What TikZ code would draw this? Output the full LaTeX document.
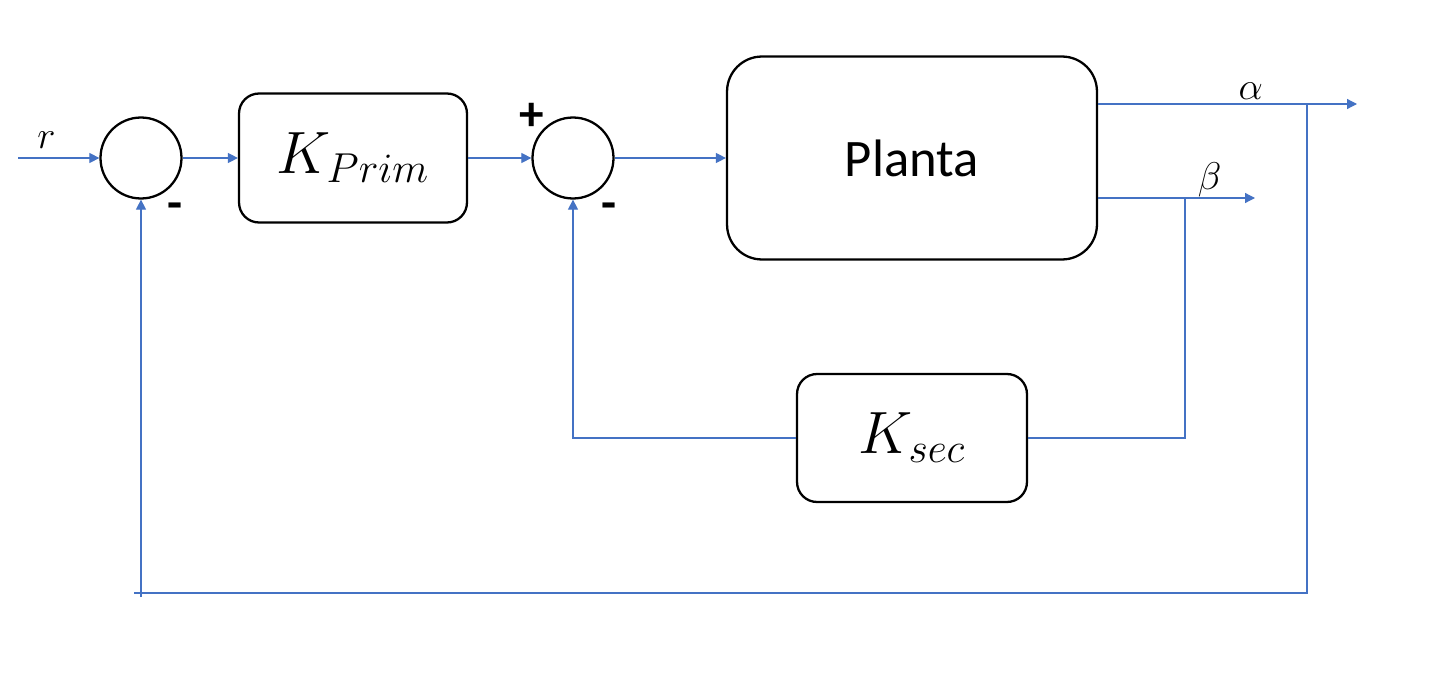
\RequirePackage{fix-cm}
\documentclass[tikz,border=0pt]{standalone}
\usepackage{fontspec}
\newfontfamily\calfont{Carlito}
\usepackage{tikz}
\usetikzlibrary{arrows.meta}
\usetikzlibrary{positioning}
\usetikzlibrary{calc}
\definecolor{linkblue}{HTML}{4472C4}
\tikzstyle{sumnode}=[circle,draw=black,line width=1.3pt,minimum size=1.62cm,inner sep=0pt]
\tikzstyle{block}=[rectangle,draw=black,line width=1.3pt,rounded corners=0.4cm,inner sep=0pt]
\tikzstyle{signal}=[-{Triangle[length=0.2cm,width=0.2cm]},draw=linkblue,line width=0.7pt]
\tikzstyle{wire}=[draw=linkblue,line width=0.7pt]
\tikzstyle{sign}=[font=\calfont\bfseries\fontsize{28}{30}\selectfont,inner sep=0pt,anchor=base]
\tikzstyle{lbl}=[font=\fontsize{22}{24}\selectfont,inner sep=2pt]
\tikzstyle{gain}=[font=\fontsize{34}{40}\selectfont]

\begin{document}
\begin{tikzpicture}[x=0.02cm,y=-0.02cm]

  \useasboundingbox[fill=white] (0,0) rectangle (1431,676);

  % summing junctions and blocks
  \node[sumnode] (sum1) at (141,158) {};
  \node[sumnode] (sum2) at (573,158) {};
  \node[block,gain,minimum width=4.56cm,minimum height=2.58cm] (kprim) at (353,158) {$K_{Prim}$};
  \node[block,minimum width=7.4cm,minimum height=4.06cm,rounded corners=0.7cm,font=\calfont\fontsize{30}{36}\selectfont] (planta) at (912,158) {Planta};
  \node[block,gain,minimum width=4.6cm,minimum height=2.56cm] (ksec) at (912,438) {$K_{sec}$};

  % signs
  \node[sign] (minus1) at (175,219) {-};
  \node[sign] (plus2) at (532,130) {+};
  \node[sign] (minus2) at (609,219) {-};

  % free ends and branch points
  \coordinate (rin) at (18,158);
  \coordinate (aout) at (1357,104);
  \coordinate (bout) at (1255,198);
  \coordinate (asplit) at (1307,104);
  \coordinate (bsplit) at (1185,198);
  \coordinate (fbcorner) at (134,593);
  \coordinate (fbtail) at (141,597);

  \draw[signal] (rin) -- node[lbl,above,pos=0.35,yshift=3pt] {$r$} (sum1);
  \foreach \source/\dest in {sum1/kprim, kprim/sum2, sum2/planta}
      \draw[signal] (\source) -- (\dest);

  \draw[signal] (planta.east |- aout) -- node[lbl,above,pos=0.59] {$\alpha$} (aout);
  \draw[signal] (planta.east |- bout) -- node[lbl,above,pos=0.71,inner sep=0pt] {$\beta$} (bout);

  % inner loop
  \draw[wire] (bsplit) |- (ksec.east);
  \draw[signal] (ksec.west) -| (sum2.south);

  % outer loop
  \draw[wire] (asplit) |- (fbcorner);
  \draw[signal] (fbtail) -- (sum1.south);

\end{tikzpicture}
\end{document}
